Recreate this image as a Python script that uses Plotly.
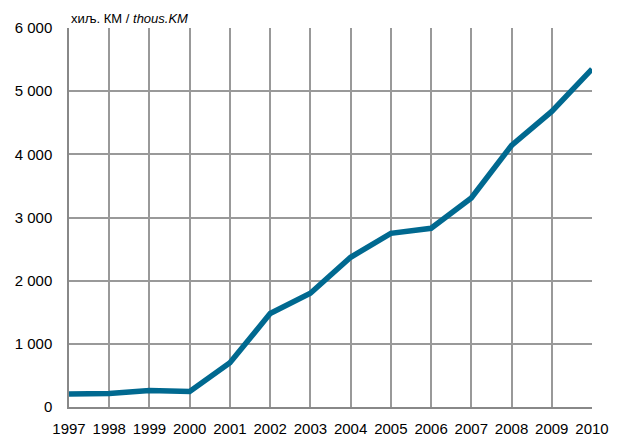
import plotly.graph_objects as go

years = [str(y) for y in range(1997, 2011)]
values = [205, 215, 260, 245, 700, 1480, 1800, 2370, 2750, 2830, 3310, 4140, 4680, 5350]
y_ticks = [0, 1000, 2000, 3000, 4000, 5000, 6000]
y_tick_labels = ["0", "1 000", "2 000", "3 000", "4 000", "5 000", "6 000"]
unit_label = "хиљ. КМ / <i>thous.KM</i>"

FONT = "Liberation Sans, Arial, sans-serif"

fig = go.Figure()
fig.add_trace(go.Scatter(
    x=list(range(len(years))), y=values, mode="lines",
    line=dict(color="#006990", width=5.5),
    hoverinfo="skip",
))

# page body has an 8px default margin, so figure is sized/offset to compensate
fig.update_layout(
    width=609, height=430,
    margin=dict(l=61, r=25, t=20, b=31, autoexpand=False),
    paper_bgcolor="white", plot_bgcolor="white",
    showlegend=False,
    font=dict(family=FONT, size=15, color="#000"),
    xaxis=dict(
        range=[0, len(years) - 1], automargin=False,
        tickmode="array", tickvals=list(range(len(years))), ticktext=years,
        showgrid=True, gridcolor="#999999", gridwidth=1.5,
        showline=True, linecolor="#888888", linewidth=1.5,
        mirror=False, ticks="", zeroline=False, ticklabelstandoff=7,
    ),
    yaxis=dict(
        range=[0, 6000], automargin=False,
        tickmode="array", tickvals=y_ticks, ticktext=y_tick_labels,
        showgrid=True, gridcolor="#999999", gridwidth=1.5,
        showline=True, linecolor="#888888", linewidth=1.5,
        ticks="", zeroline=False, ticklabelstandoff=12,
    ),
    annotations=[dict(
        text=unit_label, xref="paper", yref="paper", x=0, y=1,
        xanchor="left", yanchor="bottom", yshift=0, showarrow=False,
        font=dict(size=13, family=FONT),
    )],
)

fig.write_html("out.html")
